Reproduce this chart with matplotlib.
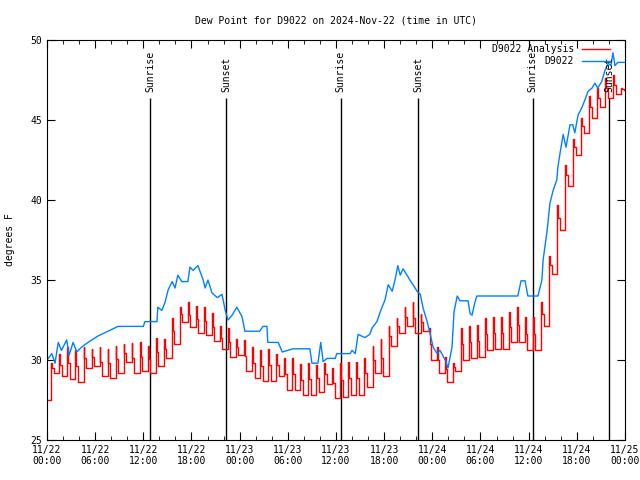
import matplotlib
matplotlib.use("Agg")
from matplotlib import pyplot as plt
import numpy as np

# observed dew point (D9022), hours since 2024-11-22 00:00 UTC
obs_hours = [0.0, 0.6, 1.0, 1.4, 1.8, 2.45, 2.75, 3.25, 3.7, 4.3, 5.1, 6.35, 7.6, 8.85,
             12.0, 12.2, 13.7, 13.8, 14.3, 14.7, 15.1, 15.6, 15.95, 16.3, 16.8, 17.55,
             17.8, 18.2, 18.8, 19.45, 19.7, 20.05, 20.55, 21.2, 21.8, 22.2, 22.55, 23.05,
             23.65, 24.3, 24.65, 26.5, 26.9, 27.4, 27.5, 28.8, 29.3, 30.65, 32.75, 33.0,
             33.75, 34.1, 34.4, 34.9, 35.9, 36.1, 37.75, 38.0, 38.4, 38.75, 39.6, 40.2,
             40.5, 41.1, 41.5, 42.1, 42.5, 43.0, 43.35, 43.7, 44.0, 44.35, 44.85, 45.2,
             45.6, 46.1, 46.5, 46.85, 47.35, 47.7, 48.1, 48.6, 48.95, 49.6, 49.95, 50.45,
             50.7, 51.1, 51.45, 52.45, 52.7, 52.95, 53.3, 53.55, 58.65, 59.05, 59.55, 59.9,
             61.15, 61.65, 61.8, 62.3, 62.65, 63.05, 63.5, 63.65, 63.9, 64.3, 64.65, 64.9,
             65.15, 65.5, 65.75, 66.15, 66.65, 67.0, 67.4, 67.9, 68.25, 68.6, 69.1, 69.5,
             69.9, 70.25, 70.5, 70.75, 71.1, 72.0]
obs_vals = [30.0, 30.4, 29.8, 31.1, 30.6, 31.25, 30.3, 31.1, 30.5, 30.8, 31.1, 31.5, 31.8, 32.1,
            32.1, 32.4, 32.4, 33.3, 33.1, 33.6, 34.4, 34.9, 34.5, 35.3, 34.9, 34.9,
            35.8, 35.6, 35.9, 35.0, 34.5, 35.0, 34.2, 33.9, 34.1, 33.1, 32.5, 32.8,
            33.3, 32.7, 31.8, 31.8, 32.1, 32.1, 31.1, 31.1, 30.5, 30.7, 30.7, 29.8,
            29.8, 31.1, 29.9, 30.1, 30.1, 30.4, 30.4, 30.6, 30.4, 31.6, 31.4, 31.6,
            32.0, 32.4, 33.0, 33.75, 34.7, 34.3, 35.0, 35.9, 35.3, 35.7, 35.3, 35.0,
            34.7, 34.3, 34.1, 33.25, 32.4, 31.7, 30.8, 30.4, 30.6, 30.0, 29.5, 30.8,
            33.0, 34.0, 33.7, 33.7, 32.9, 32.8, 33.6, 34.0, 34.0, 34.95, 34.95, 34.0,
            34.0, 35.0, 36.25, 38.1, 39.8, 40.6, 41.25, 42.1, 42.9, 44.1, 43.3, 44.0,
            44.7, 44.7, 44.2, 45.3, 45.8, 46.25, 46.8, 47.0, 47.3, 47.0, 47.4, 48.1,
            48.55, 48.4, 49.2, 48.4, 48.6, 48.6]

# analysis: hourly peak and the low that follows it
ana_start = 27.5
ana_peak = [29.8, 30.4, 30.8, 30.6, 30.8, 30.7, 30.8, 30.7, 30.9, 31.0, 31.05, 31.1,
            30.9, 31.4, 31.3, 32.6, 33.3, 33.6, 33.4, 33.3, 32.95, 32.1, 32.0, 31.3,
            31.25, 30.8, 30.6, 30.7, 30.4, 30.1, 30.1, 29.75, 29.8, 29.7, 29.8, 29.5,
            29.8, 29.9, 29.9, 30.1, 30.85, 31.3, 32.1, 32.6, 33.3, 33.6, 32.9, 32.0,
            30.8, 30.2, 29.8, 32.0, 32.1, 32.2, 32.6, 32.7, 32.7, 33.0, 33.3, 32.7,
            32.7, 33.6, 36.5, 39.7, 42.2, 43.8, 45.1, 46.5, 47.0, 47.6, 47.8, 47.0]
ana_low = [29.17, 29.0, 28.8, 28.65, 29.5, 29.65, 29.0, 28.9, 29.2, 29.85, 29.2, 29.3,
           29.2, 29.6, 30.1, 31.0, 32.4, 32.05, 31.7, 31.55, 31.2, 30.7, 30.2, 30.3,
           29.3, 28.85, 28.7, 28.7, 29.0, 28.1, 28.1, 27.8, 27.8, 28.0, 28.5, 27.65,
           27.7, 27.8, 27.8, 28.3, 29.2, 29.0, 30.9, 31.7, 32.1, 31.7, 31.8, 30.0,
           29.2, 28.65, 29.3, 30.0, 30.1, 30.2, 30.6, 30.7, 30.7, 31.1, 31.1, 30.6,
           30.6, 32.1, 35.4, 38.1, 40.9, 42.8, 44.2, 45.1, 45.8, 46.4, 46.6, 46.9]

sun_hours = [12.83, 22.3, 36.6, 46.2, 60.5, 70.0]
sun_names = ["Sunrise", "Sunset", "Sunrise", "Sunset", "Sunrise", "Sunset"]

xticks = np.arange(0, 73, 6)
xlabels = ["11/22\n00:00", "11/22\n06:00", "11/22\n12:00", "11/22\n18:00",
           "11/23\n00:00", "11/23\n06:00", "11/23\n12:00", "11/23\n18:00",
           "11/24\n00:00", "11/24\n06:00", "11/24\n12:00", "11/24\n18:00",
           "11/25\n00:00"]

# build stepped analysis trace
off = 0.55
ax_t = [0.0]
ax_v = [ana_start]
for k in range(len(ana_peak)):
    t0 = k + off
    ax_t += [t0, t0 + 0.1, t0 + 0.3]
    ax_v += [ana_peak[k], (ana_peak[k] + ana_low[k]) / 2, ana_low[k]]
ax_t.append(72.0)
ax_v.append(ana_low[-1])

plt.rcParams['font.family'] = ['DejaVu Sans Mono']
fig = plt.figure(figsize=(6.4, 4.8), dpi=100)
ax = fig.add_axes([47 / 640, 40 / 480, 578 / 640, 400 / 480])

for h, name in zip(sun_hours, sun_names):
    ax.vlines(h, 25, 46.4, color='black', lw=1.0)
    ax.text(h, 46.75, name, rotation=90, ha='center', va='bottom', fontsize=7)

ax.plot(ax_t, ax_v, color='#ff0000', lw=1.0, drawstyle='steps-post', label='D9022 Analysis')
ax.plot(obs_hours, obs_vals, color='#0080ff', lw=1.0, label='D9022')

ax.set_xlim(0, 72)
ax.set_ylim(25, 50)
ax.set_xticks(xticks)
ax.set_xticklabels(xlabels, fontsize=7)
ax.set_xticks(np.arange(0, 73, 2), minor=True)
ax.set_yticks(np.arange(25, 51, 5))
ax.tick_params(axis='y', labelsize=7)
ax.tick_params(which='both', direction='in', top=True, right=True)
ax.tick_params(which='major', length=6)
ax.tick_params(which='minor', length=3)
ax.set_ylabel('degrees F', fontsize=7, labelpad=11)
ax.set_title('Dew Point for D9022 on 2024-Nov-22 (time in UTC)', fontsize=7, pad=12)
ax.legend(loc='upper right', bbox_to_anchor=(0.974, 0.989), frameon=False,
          markerfirst=False, fontsize=7, handlelength=2.9, borderaxespad=0,
          borderpad=0, labelspacing=0.2)

fig.savefig('out.png')
